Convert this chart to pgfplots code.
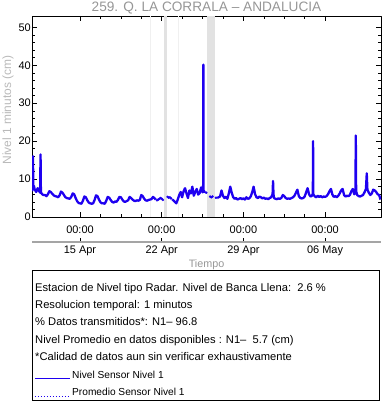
\documentclass[border=0pt]{standalone}
\usepackage{fontspec}
\setmainfont{Liberation Sans}
\usepackage{pgfplots}
\pgfplotsset{compat=1.18}
\definecolor{titlegray}{RGB}{150,150,150}
\definecolor{labgray}{RGB}{185,185,185}
\definecolor{bandgray}{RGB}{226,226,226}
\definecolor{faintgray}{RGB}{240,240,240}
\definecolor{axgray}{RGB}{165,165,165}
\definecolor{lineblue}{RGB}{30,0,240}
\begin{document}
\begin{tikzpicture}
\begin{axis}[
  at={(32bp,187bp)}, anchor=south west,
  scale only axis, width=349bp, height=201bp,
  xmin=-4.113, xmax=25.79, ymin=0, ymax=53,
  xtick={0,7,14,21}, xticklabels={00:00,00:00,00:00,00:00},
  minor x tick num=3,
  ytick={0,10,20,30,40,50}, minor y tick num=4,
  major tick length=5bp, minor tick length=3bp,
  tick style={black, line width=0.5pt},
  axis line style={black, line width=0.6pt},
  tick label style={font=\fontsize{11}{13}\selectfont, /pgf/number format/assume math mode=true},
  yticklabel style={inner xsep=1bp},
  xticklabel style={yshift=-5bp},
  unbounded coords=jump,
  line join=round,
]
\fill[faintgray] (5.97,0) rectangle (6.03,53);
\fill[faintgray] (8.39,0) rectangle (8.45,53);
\fill[bandgray] (7.17,0) rectangle (7.43,53);
\fill[bandgray] (10.88,0) rectangle (11.57,53);
\addplot[lineblue, line width=2.3pt] coordinates {
(-4.113,6.8) (-4.06,7.4) (-4.03,16.0) (-4.0,7.6) (-3.95,8.2) (-3.875,7.2) (-3.75,6.6) (-3.625,7.6) (-3.5,6.8) (-3.42,6.4) (-3.38,16.5) (-3.35,6.6) (-3.25,6.0) (-3.125,5.8)
(-3,5.8) (-2.875,5.5) (-2.75,6.0) (-2.625,6.8) (-2.5,6.6) (-2.375,6.1) (-2.25,5.7) (-2.125,5.5)
(-2,5.4) (-1.875,5.2) (-1.75,5.7) (-1.625,6.7) (-1.5,6.4) (-1.375,5.8) (-1.25,5.2) (-1.125,5.0)
(-1,4.9) (-0.875,4.8) (-0.75,5.3) (-0.625,6.2) (-0.5,6.0) (-0.375,5.0) (-0.25,4.2) (-0.125,3.7)
(0,3.6) (0.125,3.5) (0.25,4.3) (0.375,5.4) (0.5,5.2) (0.625,4.4) (0.75,3.8) (0.875,3.6)
(1,3.5) (1.125,3.6) (1.25,4.5) (1.375,5.7) (1.5,5.5) (1.625,4.6) (1.75,3.9) (1.875,3.6)
(2,3.6) (2.125,3.5) (2.25,4.3) (2.375,5.3) (2.5,5.1) (2.625,4.5) (2.75,4.0) (2.875,3.8)
(3,4.1) (3.125,4.0) (3.25,4.5) (3.375,5.3) (3.5,5.2) (3.625,4.6) (3.75,4.1) (3.875,4.0)
(4,4.2) (4.125,4.4) (4.25,5.3) (4.375,5.0) (4.5,4.6) (4.625,4.3) (4.75,4.2) (4.875,4.4)
(5,4.3) (5.125,4.5) (5.25,5.8) (5.375,5.5) (5.5,4.8) (5.625,4.4) (5.75,4.3) (5.875,4.5)
(6,4.6) (6.125,4.7) (6.25,5.3) (6.375,5.0) (6.5,4.6)
(6.55,nan)
(7.9,4.6) (8.0,4.4) (8.125,4.0) (8.25,3.6) (8.375,4.6) (8.5,5.8) (8.625,6.6) (8.75,5.2) (8.875,6.8)
(9,7.6) (9.125,6.2) (9.25,5.0) (9.375,7.0) (9.5,6.2) (9.625,8.0) (9.75,5.6) (9.875,6.6)
(10,7.4) (10.125,5.9) (10.25,6.3) (10.375,7.8) (10.5,6.5) (10.55,6.8) (10.57,40.2) (10.59,7.0) (10.65,6.6) (10.75,6.8)
(10.78,nan)
(11.75,5.0) (11.875,5.2)
(12,5.4) (12.125,7.0) (12.25,5.6) (12.375,5.0) (12.5,5.3) (12.625,4.8) (12.75,6.2) (12.875,8.0)
(13,6.4) (13.125,5.2) (13.25,4.8) (13.375,5.0) (13.5,4.6) (13.625,4.8) (13.75,5.0) (13.875,4.7)
(14,4.9) (14.125,4.6) (14.25,5.2) (14.375,4.8) (14.5,4.9) (14.625,5.4) (14.75,6.5) (14.875,8.0)
(15,6.0) (15.125,5.2) (15.25,5.0) (15.375,5.4) (15.5,5.2) (15.625,4.9) (15.75,5.1) (15.875,4.8)
(16,4.9) (16.125,4.7) (16.25,5.0) (16.375,5.2) (16.5,6.0) (16.54,9.5) (16.58,6.0) (16.625,5.0) (16.75,4.8) (16.875,4.7)
(17,4.9) (17.125,4.8) (17.25,5.0) (17.375,5.8) (17.5,5.5) (17.625,5.0) (17.75,4.8) (17.875,4.9)
(18,4.8) (18.125,5.0) (18.25,5.2) (18.375,5.6) (18.5,6.4) (18.625,7.2) (18.75,5.5) (18.875,5.0)
(19,4.9) (19.125,5.0) (19.25,5.4) (19.375,6.5) (19.5,7.6) (19.625,6.0) (19.75,5.4) (19.875,5.6) (19.95,6.2) (19.97,20.0) (19.99,6.0)
(20.125,5.4) (20.25,5.2) (20.375,5.6) (20.5,5.3) (20.625,5.5) (20.75,5.2) (20.875,5.4)
(21,5.3) (21.125,5.5) (21.25,6.0) (21.375,6.8) (21.5,7.4) (21.625,5.9) (21.75,5.3) (21.875,5.5)
(22,5.2) (22.125,5.6) (22.25,6.2) (22.375,7.0) (22.5,7.4) (22.625,5.8) (22.75,5.4) (22.875,5.6)
(23,5.5) (23.125,5.8) (23.25,6.8) (23.375,7.4) (23.5,6.0) (23.6,6.5) (23.63,21.5) (23.66,6.8) (23.75,5.8) (23.875,5.5)
(24,5.4) (24.125,5.6) (24.25,5.8) (24.375,6.5) (24.5,7.4) (24.57,11.5) (24.625,7.2) (24.75,6.4) (24.875,5.8)
(25,6.2) (25.125,7.2) (25.25,7.0) (25.375,6.6) (25.5,6.0) (25.625,5.8) (25.75,4.6)
};
\addplot[only marks, mark=*, mark size=1.1pt, lineblue] coordinates {
(6.6,4.4) (6.7,4.6) (6.8,4.8) (6.9,5.0) (7.0,4.8) (7.1,4.5) (7.5,5.3) (7.6,5.1) (7.7,5.2) (7.8,4.9)
(10.82,6.4) (11.15,5.4) (11.25,5.2) (11.35,5.4) (11.65,5.1)
};
\end{axis}
\begin{axis}[
  at={(32bp,162bp)}, anchor=south west,
  scale only axis, width=349bp, height=10bp,
  xmin=-4.113, xmax=25.79, ymin=0, ymax=1,
  axis x line*=bottom, hide y axis,
  axis line style={axgray, line width=1.6bp},
  xtick={0,7,14,21}, xticklabels={15 Apr,22 Apr,29 Apr,06 May},
  tick align=inside, major tick length=3.5bp,
  tick style={black, line width=0.5pt},
  tick label style={font=\fontsize{11}{13}\selectfont},
]
\addplot[draw=none] coordinates {(0,0)};
\end{axis}
\begin{scope}[x=1bp,y=1bp]
\node[titlegray, font=\fontsize{13.7}{16}\selectfont] at (206.5,396) {259. Q. LA CORRALA – ANDALUCIA};
\node[labgray, rotate=90, font=\fontsize{12}{14}\selectfont] at (8,294) {Nivel 1 minutos (cm)};
\node[titlegray, font=\fontsize{10.8}{13}\selectfont] at (206.5,139.7) {Tiempo};
\draw[black, line width=0.8bp] (32,4) rectangle (379.5,134);
\begin{scope}[font=\fontsize{11.2}{14}\selectfont]
\node[anchor=base west, inner sep=0] at (35,113) {Estacion de Nivel tipo Radar. Nivel de Banca Llena:\ \ 2.6 \%};
\node[anchor=base west, inner sep=0] at (35,95.6) {Resolucion temporal: 1 minutos};
\node[anchor=base west, inner sep=0] at (35,78.2) {\% Datos transmitidos*: N1– 96.8};
\node[anchor=base west, inner sep=0] at (35,60.8) {Nivel Promedio en datos disponibles : N1–\ \ 5.7 (cm)};
\node[anchor=base west, inner sep=0] at (35,43.4) {*Calidad de datos aun sin verificar exhaustivamente};
\end{scope}
\draw[lineblue, line width=0.8bp] (35,25.5) -- (70,25.5);
\draw[lineblue, line width=1bp, dotted] (35,7.5) -- (70,7.5);
\node[anchor=base west, inner sep=0, font=\fontsize{10.2}{12}\selectfont] at (72,26) {Nivel Sensor Nivel 1};
\node[anchor=base west, inner sep=0, font=\fontsize{10.2}{12}\selectfont] at (72,8.5) {Promedio Sensor Nivel 1};
\pgfresetboundingbox
\path[use as bounding box] (0,0) rectangle (382,404);
\end{scope}
\end{tikzpicture}
\end{document}
